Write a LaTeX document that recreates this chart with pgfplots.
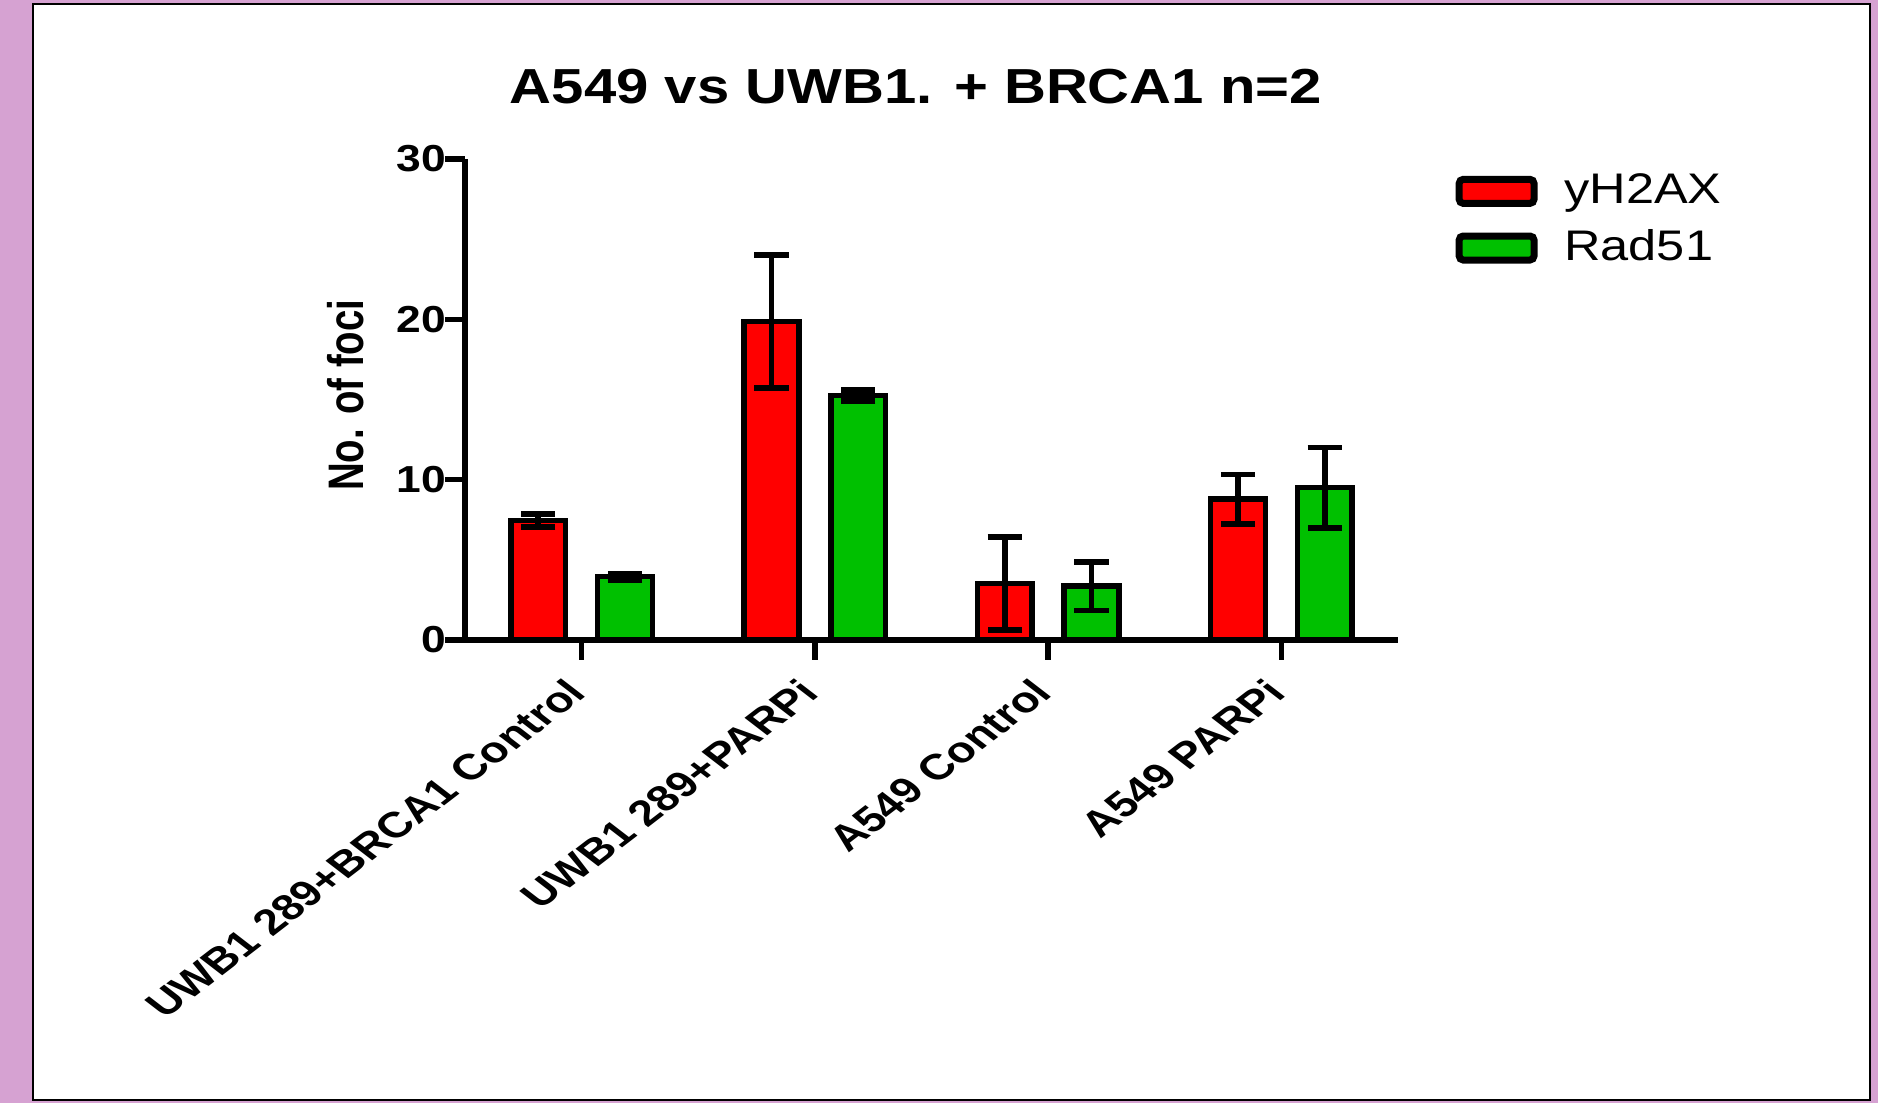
\documentclass[border=0pt]{standalone}
\usepackage{fontspec}
\setmainfont{Liberation Sans}
\newfontfamily\wide{Liberation Sans}[FakeStretch=1.18]
\usepackage{pgfplots}
\usepackage{pgfplotstable}
\pgfplotsset{compat=1.18}
\definecolor{barred}{RGB}{255,0,0}
\definecolor{bargreen}{RGB}{0,192,0}
\definecolor{bgpink}{RGB}{214,162,210}

\pgfplotstableread{
x yr er yg eg
0 7.45 0.40 3.95 0.20
1 19.86 4.15 15.26 0.35
2 3.52 2.90 3.35 1.50
3 8.78 1.53 9.50 2.50
}\datatable

\begin{document}
\begin{tikzpicture}
\useasboundingbox (0pt,0pt) rectangle (469.5pt,275.75pt);
\fill[bgpink] (0pt,0pt) rectangle (469.5pt,275.75pt);
\filldraw[fill=white, draw=black, line width=0.5pt] (8.25pt,0.75pt) rectangle (467.5pt,274.75pt);
\begin{axis}[
  at={(116.25pt,115.75pt)}, anchor=south west,
  width=233.25pt, height=120.25pt, scale only axis,
  xmin=-0.5, xmax=3.5, ymin=0, ymax=30,
  ybar, bar width=0.235,
  axis x line*=bottom, axis y line*=left,
  axis line style={-, line width=1.4pt, black},
  xtick={0,1,2,3},
  xticklabels={UWB1 289+BRCA1 Control, UWB1 289+PARPi, A549 Control, A549 PARPi},
  ytick={0,10,20,30},
  tick align=outside, major tick length=5pt,
  tick style={line width=1.4pt, black},
  /pgf/number format/assume math mode=true,
  yticklabel style={font=\wide\bfseries\fontsize{9.4}{11}\selectfont, inner sep=1pt, xshift=1.5pt},
  xticklabel style={font=\bfseries\fontsize{9}{11}\selectfont, xshift=-4.5pt, yshift=-2.5pt, xscale=1.3, rotate=45, anchor=north east, inner sep=1pt},
  title={A549 vs UWB1. + BRCA1 n=2},
  title style={font=\wide\bfseries\fontsize{12.3}{14}\selectfont, at={(0.4834,1)}, anchor=base, yshift=7.75pt},
  ylabel={No. of foci},
  every axis y label/.style={at={(0,0.509)}, xshift=-29.75pt, anchor=center, font=\bfseries\fontsize{9.6}{11}\selectfont, xscale=1.3, rotate=90},
  legend style={at={(1.061,0.980)}, anchor=north west, draw=none, fill=none,
    font=\wide\fontsize{10.7}{12}\selectfont, inner sep=0pt, row sep=3.05pt, column sep=5.7pt,
    nodes={inner sep=1pt}},
  legend cell align=left,
  legend image code/.code={\draw[#1, line width=1.75pt, rounded corners=1pt] (0pt,-3pt) rectangle (18.7pt,3pt);},
]
\addplot[fill=barred, draw=black, line width=1.4pt, bar shift=-0.186,
  error bars/.cd, y dir=both, y explicit,
  error bar style={line width=1.4pt, black},
  error mark options={rotate=90, black, line width=1.4pt, mark size=4.3pt}]
  table[x=x, y=yr, y error=er]{\datatable};
\addlegendentry{yH2AX}
\addplot[fill=bargreen, draw=black, line width=1.4pt, bar shift=0.186,
  error bars/.cd, y dir=both, y explicit,
  error bar style={line width=1.4pt, black},
  error mark options={rotate=90, black, line width=1.4pt, mark size=4.3pt}]
  table[x=x, y=yg, y error=eg]{\datatable};
\addlegendentry{Rad51}
\end{axis}
\end{tikzpicture}
\end{document}
